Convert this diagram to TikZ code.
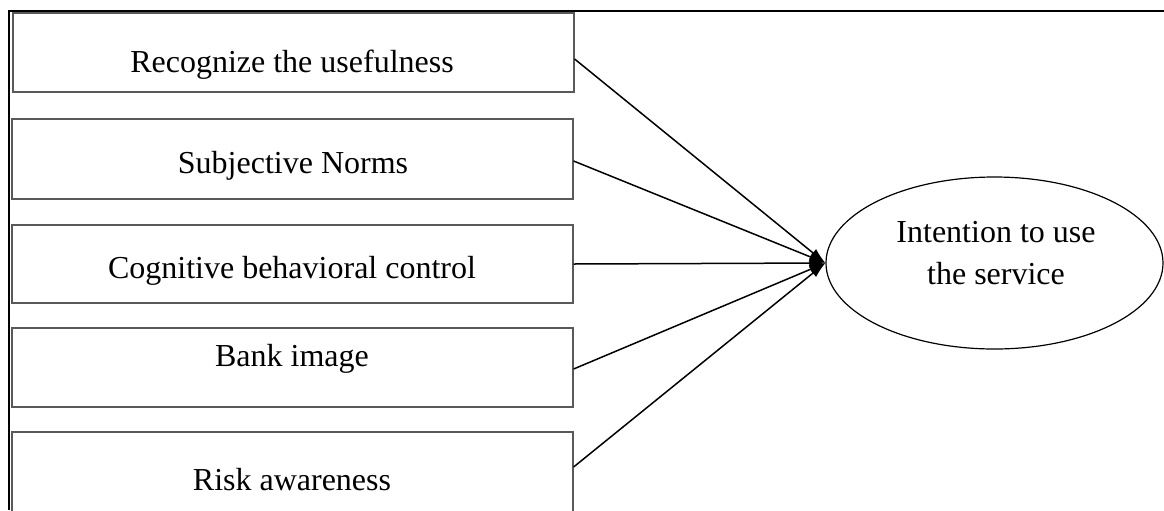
\documentclass[tikz,border=0pt]{standalone}
\usepackage{fontspec}
\setmainfont{Liberation Serif}
\usetikzlibrary{shapes.geometric}
\usetikzlibrary{arrows.meta}

\begin{document}
\begin{tikzpicture}[x=0.5pt,y=-0.5pt,
	factor/.style={draw=black!65, line width=0.6pt, minimum width=280.5pt, inner sep=0pt},
	lbl/.style={anchor=base, inner sep=0pt, font=\fontsize{16}{21}\selectfont},
	oval/.style={ellipse, draw, line width=0.6pt, minimum width=168.5pt, minimum height=86pt, inner sep=0pt},
	link/.style={line width=0.75pt, -{Latex[length=8pt,width=5pt]}}]
	\useasboundingbox (0,0) rectangle (1164,510);
	\clip (0,0) rectangle (1164,510);
	\draw[line width=1pt] (9,510) -- (9,11) -- (1164,11);

	\node[factor, minimum height=39.5pt] (b1) at (293.5,52.5) {};
	\node[factor, minimum height=40pt] (b2) at (292.5,159) {};
	\node[factor, minimum height=39pt] (b3) at (292.5,264) {};
	\node[factor, minimum height=39.5pt] (b4) at (292.5,367.5) {};
	\node[factor, minimum height=49pt] (b5) at (292.5,481) {};

	\node[lbl] (t1) at (292,72) {Recognize the usefulness};
	\node[lbl] (t2) at (293,173) {Subjective Norms};
	\node[lbl] (t3) at (292,278) {Cognitive behavioral control};
	\node[lbl] (t4) at (292,366) {Bank image};
	\node[lbl] (t5) at (292,490) {Risk awareness};

	\node[oval] (intent) at (994.5,263) {};
	\node[lbl] (i1) at (996,242) {Intention to use};
	\node[lbl] (i2) at (996,284) {the service};

	\draw[link] ([yshift=-3.25pt]b1.east) -- (intent.west);
	\draw[link] ([yshift=-1pt]b2.east) -- (intent.west);
	\draw[link] (b3.east) -- (intent.west);
	\draw[link] ([yshift=-0.75pt]b4.east) -- (intent.west);
	\draw[link] ([yshift=7pt]b5.east) -- (intent.west);
\end{tikzpicture}
\end{document}
